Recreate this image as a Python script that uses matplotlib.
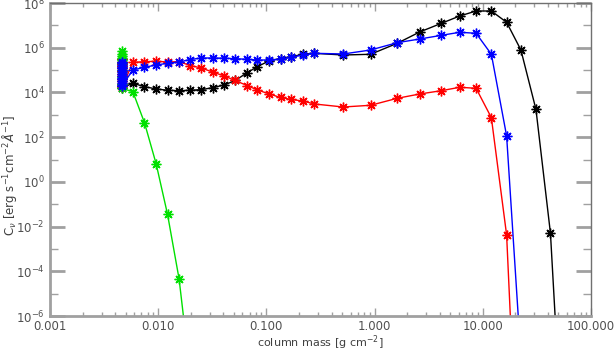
import numpy as np
import matplotlib
matplotlib.use("Agg")
import matplotlib.pyplot as plt
from matplotlib.ticker import LogLocator, FixedLocator, NullFormatter, FixedFormatter

plt.rcParams["font.family"] = ["DejaVu Sans"]

# column mass grid [g cm^-2]
mass = [0.00583, 0.00747, 0.00958, 0.0122, 0.0156, 0.0198, 0.0250, 0.0318,
        0.0408, 0.0516, 0.0660, 0.0826, 0.1066, 0.135, 0.170, 0.217, 0.278,
        0.513, 0.918, 1.62, 2.61, 4.15, 6.12, 8.67, 12.0, 16.6, 22.5, 31.0,
        42.2, 58.0]

# top-of-atmosphere cluster (all at nearly the same column mass)
m_top = 0.00464
black_top = [3.0e5, 2.4e5, 1.9e5, 1.5e5, 1.2e5, 9e4, 7e4, 5.5e4, 4e4, 3.2e4, 2.5e4, 2.0e4, 1.6e4]
red_top = [3.0e5, 2.4e5, 1.9e5, 1.5e5, 1.2e5, 9e4, 7e4, 5.5e4, 4e4, 3.2e4, 2.5e4, 2.0e4, 1.7e4]
green_top = [7.0e5, 5.5e5, 4.3e5, 3.5e5, 2.7e5, 2.0e5, 1.0e5, 5e4, 2.5e4, 1.5e4]
blue_top = [2.4e5, 2.0e5, 1.7e5, 1.4e5, 1.2e5, 1.0e5, 8e4, 6.6e4, 5.5e4, 4.5e4,
            3.8e4, 3.2e4, 2.6e4, 2.2e4, 2.0e4]

black = [2.57e4, 1.81e4, 1.43e4, 1.25e4, 1.20e4, 1.25e4, 1.33e4, 1.63e4,
         2.15e4, 3.42e4, 7.55e4, 1.42e5, 2.63e5, 3.23e5, 3.97e5, 5.08e5,
         5.62e5, 4.72e5, 5.08e5, 1.58e6, 5.05e6, 1.24e7, 2.62e7, 4.39e7,
         4.39e7, 1.37e7, 7.91e5, 1.73e3, 5.0e-3, 6e-15]
red = [2.23e5, 2.37e5, 2.47e5, 2.30e5, 2.37e5, 1.60e5, 1.24e5, 8.2e4,
       5.43e4, 3.42e4, 2.04e4, 1.29e4, 8.5e3, 5.94e3, 4.83e3, 4.14e3,
       3.04e3, 2.23e3, 2.66e3, 5.47e3, 8.5e3, 1.20e4, 1.70e4, 1.53e4,
       7.4e2, 4.2e-3, 5e-17]
blue = [1.01e5, 1.33e5, 1.69e5, 2.01e5, 2.30e5, 2.97e5, 3.47e5, 3.47e5,
        3.40e5, 3.23e5, 3.03e5, 2.82e5, 2.82e5, 3.13e5, 3.73e5, 4.72e5,
        5.62e5, 5.24e5, 7.91e5, 1.68e6, 2.45e6, 3.59e6, 4.90e6, 4.42e6,
        5.08e5, 1.13e2, 1.4e-8]
green = [1.08e4, 4.4e2, 6.3, 3.5e-2, 4.5e-5, 2.3e-9]

fig = plt.figure(figsize=(6.14, 3.51), dpi=100)
ax = fig.add_axes([50/614, 35/351, 541/614, 313/351])

mk = dict(marker=(8, 2, 0), markersize=7, markeredgewidth=1.0, lw=1.0)

def series(top, vals, color):
    x = [m_top] * len(top) + mass[:len(vals)]
    y = list(top) + list(vals)
    ax.plot(x, y, color=color, **mk)

series(black_top, black, "black")
series(red_top, red, "red")
series(green_top, green, "#00e000")
series(blue_top, blue, "blue")

ax.set_xscale("log")
ax.set_yscale("log")
ax.set_xlim(0.001, 100)
ax.set_ylim(1e-6, 1e8)

gray = "#a0a0a0"
for s in ["left", "bottom"]:
    ax.spines[s].set_color(gray)
    ax.spines[s].set_linewidth(2)
for s in ["top", "right"]:
    ax.spines[s].set_color("#707070")
    ax.spines[s].set_linewidth(1)

xt = [0.001, 0.01, 0.1, 1, 10, 100]
xlabels = ["0.001", "0.010", "0.100", "1.000", "10.000", "100.000"]
ax.xaxis.set_major_locator(FixedLocator(xt))
ax.xaxis.set_major_formatter(FixedFormatter(xlabels))
ax.xaxis.set_minor_locator(LogLocator(base=10, subs=np.arange(2, 10), numticks=20))
ax.xaxis.set_minor_formatter(NullFormatter())

yt = [1e-6, 1e-4, 1e-2, 1e0, 1e2, 1e4, 1e6, 1e8]
ax.yaxis.set_major_locator(FixedLocator(yt))
ax.yaxis.set_major_formatter(FixedFormatter(
    [r"10$^{%d}$" % e for e in [-6, -4, -2, 0, 2, 4, 6, 8]]))
ax.yaxis.set_minor_locator(FixedLocator([1e-5, 1e-3, 1e-1, 1e1, 1e3, 1e5, 1e7]))
ax.yaxis.set_minor_formatter(NullFormatter())

ax.tick_params(axis="x", which="major", direction="in", length=6, width=1,
               color=gray, top=True, labelsize=8.5, labelcolor="#505050", pad=3)
ax.tick_params(axis="x", which="minor", direction="in", length=3, width=1,
               color=gray, top=True)
ax.tick_params(axis="y", which="major", direction="in", length=11, width=2,
               color=gray, right=True, labelsize=8.5, labelcolor="#505050", pad=4)
ax.tick_params(axis="y", which="minor", direction="in", length=6, width=1,
               color=gray, right=True)

ax.set_xlabel(r"column mass [g cm$^{-2}$]", fontsize=8, color="#404040", labelpad=0)
ax.set_ylabel(r"C$_\nu$ [erg s$^{-1}$cm$^{-2}$$\AA^{-1}$]", fontsize=8.5,
              color="#404040")
ax.yaxis.set_label_coords(-0.058, 0.45)

fig.savefig("out.png", dpi=100)
